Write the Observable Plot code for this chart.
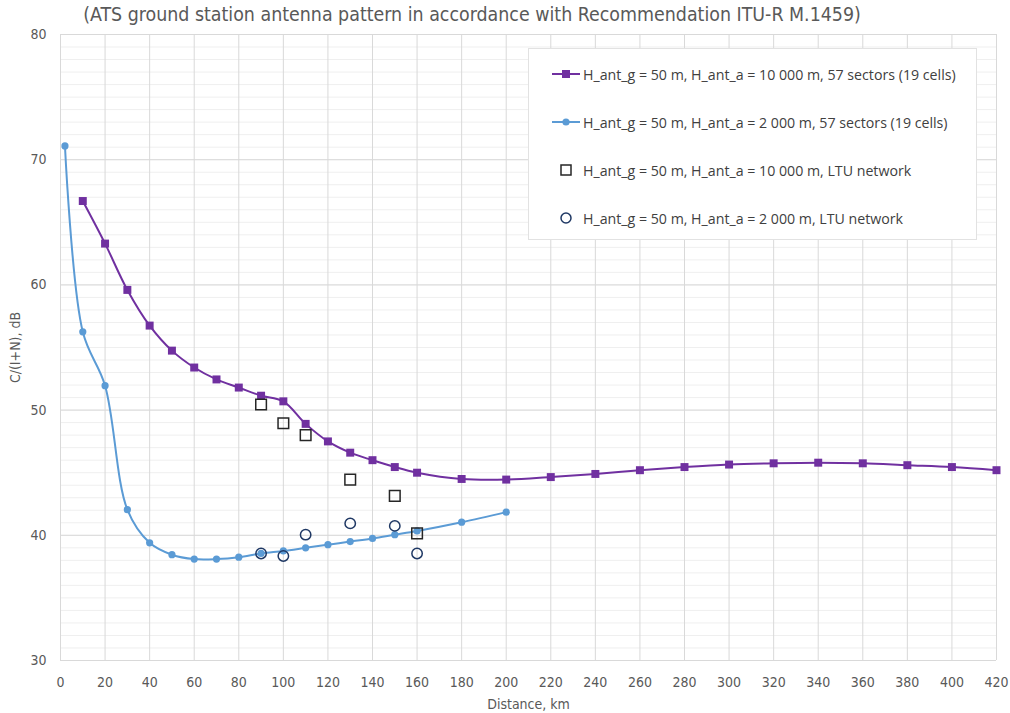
<!DOCTYPE html>
<html>
<head>
<meta charset="utf-8">
<script src="https://cdn.jsdelivr.net/npm/d3@7"></script>
<script src="https://cdn.jsdelivr.net/npm/@observablehq/plot@0.6"></script>
<style>
  body { margin: 0; background: #fff; }
  #chart { position: relative; width: 1010px; height: 713px; font-family: "Liberation Sans Narrow", "DejaVu Sans Condensed", sans-serif; }
  #title { position: absolute; top: 3px; left: 0; width: 944px; text-align: center; font-size: 19.4px; color: #595959; white-space: nowrap; }
  #legend { position: absolute; left: 528px; top: 48px; width: 449px; height: 192px; background: #fff; border: 1px solid #e2e2e2; box-sizing: border-box; }
  .item { position: absolute; left: 23px; height: 20px; display: flex; align-items: center; font-family: "Open Sans", sans-serif; font-size: 14.2px; color: #404040; white-space: nowrap; }
  .item svg { margin-right: 3px; }
</style>
</head>
<body>
<div id="chart">
  <div id="title"></div>
  <div id="legend"></div>
</div>
<script>
const title = "(ATS ground station antenna pattern in accordance with Recommendation ITU-R M.1459)";
const xLabel = "Distance, km";
const yLabel = "C/(I+N), dB";

// Series names
const names = [
  "H_ant_g = 50 m, H_ant_a = 10 000 m, 57 sectors (19 cells)",
  "H_ant_g = 50 m, H_ant_a = 2 000 m, 57 sectors (19 cells)",
  "H_ant_g = 50 m, H_ant_a = 10 000 m, LTU network",
  "H_ant_g = 50 m, H_ant_a = 2 000 m, LTU network"
];

// 57 sectors, aircraft at 10 000 m
const dist10k = [10, 20, 30, 40, 50, 60, 70, 80, 90, 100, 110, 120, 130, 140, 150, 160, 180, 200, 220, 240, 260, 280, 300, 320, 340, 360, 380, 400, 420];
const cin10k  = [66.7, 63.3, 59.6, 56.75, 54.75, 53.4, 52.45, 51.8, 51.15, 50.7, 48.9, 47.5, 46.6, 46.0, 45.45, 45.0, 44.5, 44.45, 44.65, 44.9, 45.2, 45.45, 45.65, 45.75, 45.8, 45.75, 45.6, 45.45, 45.2];

// 57 sectors, aircraft at 2 000 m
const dist2k = [2, 10, 20, 30, 40, 50, 60, 70, 80, 90, 100, 110, 120, 130, 140, 150, 160, 180, 200];
const cin2k  = [71.1, 56.25, 51.95, 42.05, 39.4, 38.45, 38.1, 38.1, 38.25, 38.55, 38.75, 39.0, 39.25, 39.5, 39.75, 40.05, 40.35, 41.05, 41.85];

// LTU network, aircraft at 10 000 m
const ltuDist10k = [90, 100, 110, 130, 150, 160];
const ltuCin10k  = [50.45, 48.95, 48.0, 44.45, 43.15, 40.15];

// LTU network, aircraft at 2 000 m
const ltuDist2k = [90, 100, 110, 130, 150, 160];
const ltuCin2k  = [38.55, 38.35, 40.05, 40.95, 40.75, 38.55];

const xTicks = d3.range(0, 421, 20);
const yTicks = [30, 40, 50, 60, 70, 80];
const yMinor = d3.range(30, 81, 1);

const colors = { purple: "#7030a0", blue: "#5b9bd5", black: "#262626", navy: "#1f3864" };

const s1 = dist10k.map((d, i) => ({ x: d, y: cin10k[i] }));
const s2 = dist2k.map((d, i) => ({ x: d, y: cin2k[i] }));
const s3 = ltuDist10k.map((d, i) => ({ x: d, y: ltuCin10k[i] }));
const s4 = ltuDist2k.map((d, i) => ({ x: d, y: ltuCin2k[i] }));

document.getElementById("title").textContent = title;

const plot = Plot.plot({
  width: 1010,
  height: 713,
  marginLeft: 60,
  marginRight: 14,
  marginTop: 34,
  marginBottom: 53,
  style: { fontFamily: "'Liberation Sans Narrow', 'DejaVu Sans Condensed', sans-serif", fontSize: "14px", color: "#595959", background: "transparent" },
  x: { domain: [0, 420] },
  y: { domain: [30, 80] },
  marks: [
    Plot.ruleY(yMinor, { stroke: "#efefef", strokeWidth: 1 }),
    Plot.ruleX(xTicks, { stroke: "#d9d9d9", strokeWidth: 1 }),
    Plot.ruleY(yTicks, { stroke: "#d9d9d9", strokeWidth: 1 }),
    Plot.axisX({ ticks: xTicks, tickSize: 0, tickPadding: 17, tickFormat: d => d, label: xLabel, labelAnchor: "center", labelOffset: 48, labelArrow: "none" }),
    Plot.axisY({ ticks: yTicks, tickSize: 0, tickPadding: 14, tickFormat: d => d, label: yLabel, labelAnchor: "center", labelOffset: 50, labelArrow: "none" }),
    Plot.line(s2, { x: "x", y: "y", stroke: colors.blue, strokeWidth: 2, curve: "catmull-rom" }),
    Plot.line(s1, { x: "x", y: "y", stroke: colors.purple, strokeWidth: 2, curve: "catmull-rom" }),
    Plot.dot(s2, { x: "x", y: "y", r: 3.6, fill: colors.blue, stroke: "none" }),
    Plot.dot(s1, { x: "x", y: "y", r: 4.5, symbol: "square", fill: colors.purple, stroke: "none" }),
    Plot.dot(s3, { x: "x", y: "y", r: 6, symbol: "square", fill: "none", stroke: colors.black, strokeWidth: 1.5 }),
    Plot.dot(s4, { x: "x", y: "y", r: 5.2, fill: "none", stroke: colors.navy, strokeWidth: 1.5 })
  ]
});
plot.style.position = "absolute";
plot.style.left = "0";
plot.style.top = "0";
document.getElementById("chart").insertBefore(plot, document.getElementById("legend"));

// Legend entries
const symbols = [
  `<svg width="28" height="12"><line x1="0" y1="6" x2="28" y2="6" stroke="${colors.purple}" stroke-width="2"/><rect x="10" y="2" width="8" height="8" fill="${colors.purple}"/></svg>`,
  `<svg width="28" height="12"><line x1="0" y1="6" x2="28" y2="6" stroke="${colors.blue}" stroke-width="2"/><circle cx="14" cy="6" r="3.6" fill="${colors.blue}"/></svg>`,
  `<svg width="28" height="14"><rect x="9" y="2" width="10" height="10" fill="none" stroke="${colors.black}" stroke-width="1.5"/></svg>`,
  `<svg width="28" height="14"><circle cx="14" cy="7" r="5" fill="none" stroke="${colors.navy}" stroke-width="1.5"/></svg>`
];
const legend = document.getElementById("legend");
names.forEach((n, i) => {
  const div = document.createElement("div");
  div.className = "item";
  div.style.top = (15 + i * 48) + "px";
  div.innerHTML = symbols[i] + `<span>${n}</span>`;
  legend.appendChild(div);
});
</script>
</body>
</html>
